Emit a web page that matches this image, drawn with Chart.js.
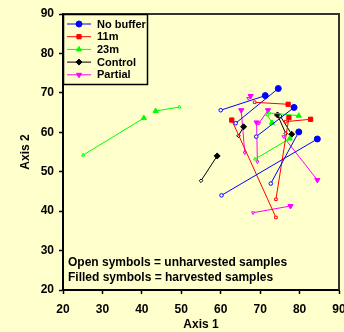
<!DOCTYPE html>
<html>
<head>
<meta charset="UTF-8" />
<script src="https://cdn.jsdelivr.net/npm/chart.js"></script>
<style>
  body { margin: 0; background: #ffffcc; }
  #wrap { width: 344px; height: 332px; }
</style>
</head>
<body>
<div id="wrap"><canvas id="grafico"></canvas></div>
<script>
// each treatment: open = unharvested, filled = harvested (same index = same site)
const noBufferOpenX = [60.0, 63.8, 69.0, 72.7, 60.2];
const noBufferOpenY = [65.6, 62.3, 58.9, 47.0, 44.0];
const noBufferFilledX = [71.3, 74.6, 78.6, 79.8, 84.5];
const noBufferFilledY = [69.3, 71.1, 66.3, 60.1, 58.3];

const m11OpenX = [68.6, 74.0, 74.0, 76.5];
const m11OpenY = [67.6, 38.4, 43.0, 62.7];
const m11FilledX = [77.1, 62.8, 77.3, 82.8];
const m11FilledY = [67.1, 63.1, 63.7, 63.3];

const m23OpenX = [25.1, 49.5, 68.7, 71.8, 72.3];
const m23OpenY = [54.2, 66.4, 53.2, 64.4, 64.9];
const m23FilledX = [40.5, 43.5, 77.5, 73.0, 79.8];
const m23FilledY = [63.6, 65.4, 58.4, 62.4, 64.2];

const controlOpenX = [55.0, 64.5, 76.5, 75.1];
const controlOpenY = [47.7, 59.1, 59.7, 64.1];
const controlFilledX = [59.1, 65.8, 74.4, 78.0];
const controlFilledY = [54.0, 61.4, 64.4, 59.5];

const partialOpenX = [67.0, 66.1, 69.3, 69.7, 75.9, 68.2];
const partialOpenY = [68.6, 54.8, 52.5, 62.3, 58.9, 39.6];
const partialFilledX = [67.6, 65.2, 69.1, 72.0, 84.5, 77.7];
const partialFilledY = [69.2, 65.6, 62.5, 65.6, 47.9, 41.3];

const axisTicks = [20, 30, 40, 50, 60, 70, 80, 90];

function pares(ox, oy, fx, fy) {
  const pts = [];
  for (let i = 0; i < ox.length; i++) {
    pts.push({ x: ox[i], y: oy[i] });
    pts.push({ x: fx[i], y: fy[i] });
    pts.push({ x: null, y: null });
  }
  return pts;
}

function serie(label, cor, estilo, rot, pts) {
  return {
    label: label,
    data: pts,
    borderColor: cor,
    borderWidth: 1,
    showLine: true,
    spanGaps: false,
    pointStyle: estilo,
    rotation: rot,
    pointBorderColor: cor,
    pointBorderWidth: 1,
    pointBackgroundColor: (c) => (c.dataIndex % 3 === 0 ? "#ffffff" : cor),
    pointRadius: (c) => (c.dataIndex % 3 === 0 ? 1.8 : 3),
  };
}

const fonte = "'Liberation Sans', Arial, sans-serif";

// legend box + notes drawn inside the plot area
const extras = {
  id: "extras",
  afterDraw(chart) {
    const ctx = chart.ctx;
    const a = chart.chartArea;
    ctx.save();
    ctx.strokeStyle = "#333333";
    ctx.lineWidth = 2;
    ctx.beginPath();
    ctx.moveTo(a.left, a.top);
    ctx.lineTo(a.right, a.top);
    ctx.lineTo(a.right, a.bottom);
    ctx.stroke();

    // legend
    const lx = a.left, ly = a.top;
    ctx.lineWidth = 1.5;
    ctx.strokeStyle = "#000";
    ctx.strokeRect(lx + 0.5, ly + 0.5, 84, 70);
    ctx.font = "bold 11px " + fonte;
    ctx.textBaseline = "middle";
    chart.data.datasets.forEach((ds, i) => {
      const y = ly + 10 + i * 12.7;
      ctx.strokeStyle = ds.borderColor;
      ctx.lineWidth = 1;
      ctx.beginPath();
      ctx.moveTo(lx + 4, y);
      ctx.lineTo(lx + 28, y);
      ctx.stroke();
      ctx.fillStyle = ds.borderColor;
      Chart.helpers.drawPoint(ctx, { pointStyle: ds.pointStyle, rotation: ds.rotation, radius: 3, borderWidth: 1 }, lx + 16, y);
      ctx.fillStyle = "#000";
      ctx.fillText(ds.label, lx + 34, y + 0.5);
    });

    ctx.font = "bold 12px " + fonte;
    ctx.fillStyle = "#000";
    ctx.fillText("Open symbols = unharvested samples", a.left + 5, 262.5);
    ctx.fillText("Filled symbols = harvested samples", a.left + 5, 278);
    ctx.restore();
  },
};

new Chart(document.getElementById("grafico"), {
  type: "scatter",
  data: {
    datasets: [
      serie("No buffer", "#0000ff", "circle", 0, pares(noBufferOpenX, noBufferOpenY, noBufferFilledX, noBufferFilledY)),
      serie("11m", "#ff0000", "rect", 0, pares(m11OpenX, m11OpenY, m11FilledX, m11FilledY)),
      serie("23m", "#00ff00", "triangle", 0, pares(m23OpenX, m23OpenY, m23FilledX, m23FilledY)),
      serie("Control", "#000000", "rectRot", 0, pares(controlOpenX, controlOpenY, controlFilledX, controlFilledY)),
      serie("Partial", "#ff00ff", "triangle", 180, pares(partialOpenX, partialOpenY, partialFilledX, partialFilledY)),
    ],
  },
  options: {
    responsive: true,
    maintainAspectRatio: false,
    animation: false,
    layout: { padding: { top: 14, right: 4, left: 0, bottom: 0 } },
    plugins: { legend: { display: false }, tooltip: { enabled: false } },
    scales: {
      x: {
        min: 20,
        max: 90,
        afterBuildTicks: (s) => { s.ticks = axisTicks.map((v) => ({ value: v })); },
        afterFit: (s) => { s.height = 42; s.paddingRight = 0; s.paddingLeft = 0; },
        ticks: { color: "#000", padding: 8, maxRotation: 0, font: { family: fonte, size: 12, weight: "bold" } },
        grid: { drawOnChartArea: false, tickLength: 4, color: "#000", tickWidth: 1.5 },
        border: { color: "#000", width: 2 },
        title: { display: true, text: "Axis 1", color: "#000", padding: { top: -1, bottom: 0 }, font: { family: fonte, size: 12, weight: "bold" } },
      },
      y: {
        min: 20,
        max: 90,
        afterBuildTicks: (s) => { s.ticks = axisTicks.map((v) => ({ value: v })); },
        afterFit: (s) => { s.width = 63; s.paddingTop = 0; s.paddingBottom = 0; },
        ticks: { color: "#000", padding: 5, font: { family: fonte, size: 12, weight: "bold" } },
        grid: { drawOnChartArea: false, tickLength: 4, color: "#000", tickWidth: 1.5 },
        border: { color: "#000", width: 2 },
        title: { display: true, text: "Axis 2", color: "#000", padding: { top: 18, bottom: 0 }, font: { family: fonte, size: 12, weight: "bold" } },
      },
    },
  },
  plugins: [extras],
});
</script>
</body>
</html>
